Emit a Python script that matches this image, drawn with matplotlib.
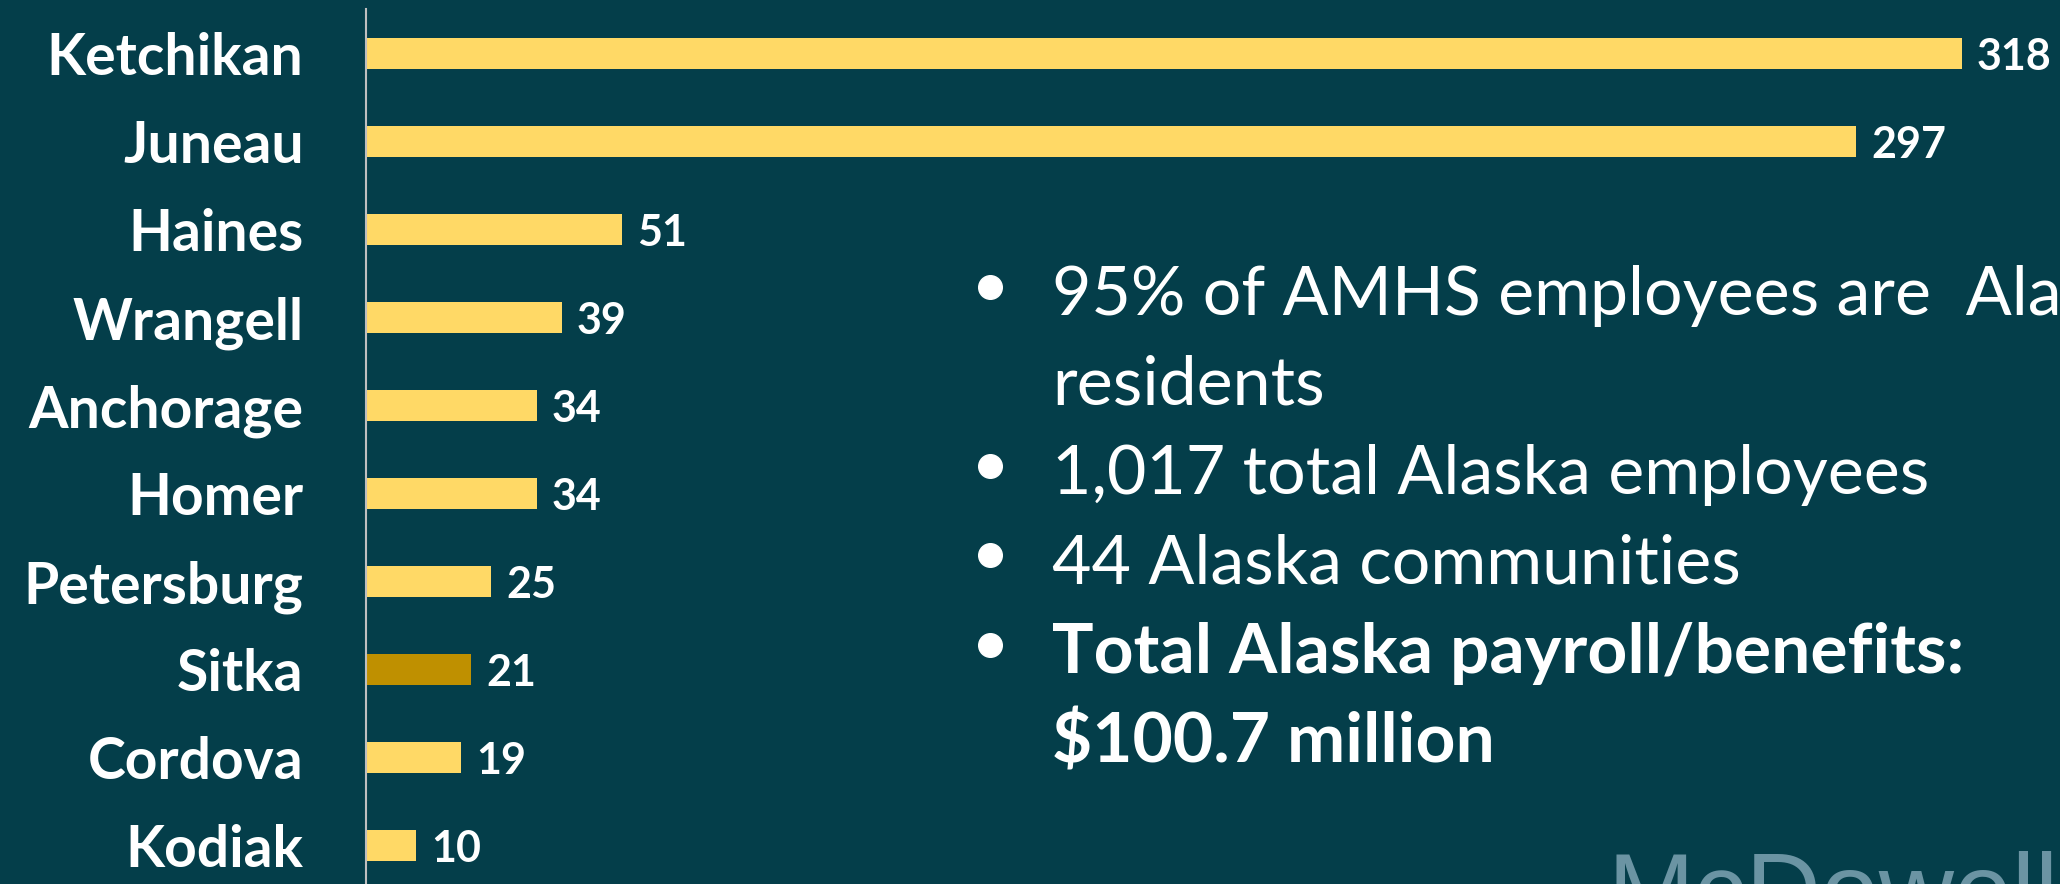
import matplotlib
matplotlib.use("Agg")
import matplotlib.pyplot as plt
from matplotlib.lines import Line2D

# data
towns = ["Ketchikan", "Juneau", "Haines", "Wrangell", "Anchorage",
         "Homer", "Petersburg", "Sitka", "Cordova", "Kodiak"]
employees = [318, 297, 51, 39, 34, 34, 25, 21, 19, 10]
highlight = "Sitka"

bullet_lines = [
    ("95% of AMHS employees are  Alaska", True, "normal"),
    ("residents", False, "normal"),
    ("1,017 total Alaska employees", True, "normal"),
    ("44 Alaska communities", True, "normal"),
    ("Total Alaska payroll/benefits:", True, "bold"),
    (r"\$100.7 million", False, "bold"),
]

BG = "#043E4A"
BAR = "#FFD966"
BAR_HI = "#BF9000"
W, H = 2060, 884

plt.rcParams["font.family"] = ["Lato", "DejaVu Sans"]

fig = plt.figure(figsize=(W / 100, H / 100), dpi=100, facecolor=BG)
ax = fig.add_axes([366 / W, 0, 1 - 366 / W, (H - 9) / H])
ax.set_facecolor(BG)

ypos = list(range(len(towns)))
colors = [BAR_HI if t == highlight else BAR for t in towns]
ax.barh(ypos, employees, height=0.35, color=colors, edgecolor="none")

ax.set_xlim(0, (W - 366) / 5.018)
ax.set_ylim(len(towns) - 1 + 0.4375, -0.506)

for v, y in zip(employees, ypos):
    ax.annotate(str(v), (v, y), xytext=(11, -12), textcoords="offset points",
                va="baseline", ha="left", color="white", fontsize=31,
                fontweight="bold")

ax.set_yticks(ypos)
ax.set_yticklabels(towns, fontsize=41, fontweight="bold", color="white")
ax.tick_params(axis="y", length=0, pad=45)
ax.set_xticks([])
for s in ["top", "right", "bottom"]:
    ax.spines[s].set_visible(False)
ax.spines["left"].set_color("#BFBFBF")
ax.spines["left"].set_linewidth(1.5)

# bullet list on the right
base0, step = 315, 89.4
for k, (txt, has_bullet, weight) in enumerate(bullet_lines):
    by = base0 + k * step
    size = 50 if weight == "bold" else 49
    fig.text(1052 / W, 1 - by / H, txt, color="white", fontsize=size,
             fontweight=weight, va="baseline", ha="left")
    if has_bullet:
        fig.add_artist(Line2D([990 / W], [1 - (by - 28) / H], marker="o",
                              markersize=17, color="white",
                              transform=fig.transFigure))

# logo text, cut off at the bottom edge
fig.text(1607 / W, 1 - 926 / H, "McDowell", color="#6B94A3", fontsize=75,
         family="Liberation Sans", va="baseline", ha="left")

fig.savefig("out.png", dpi=100, facecolor=BG)
